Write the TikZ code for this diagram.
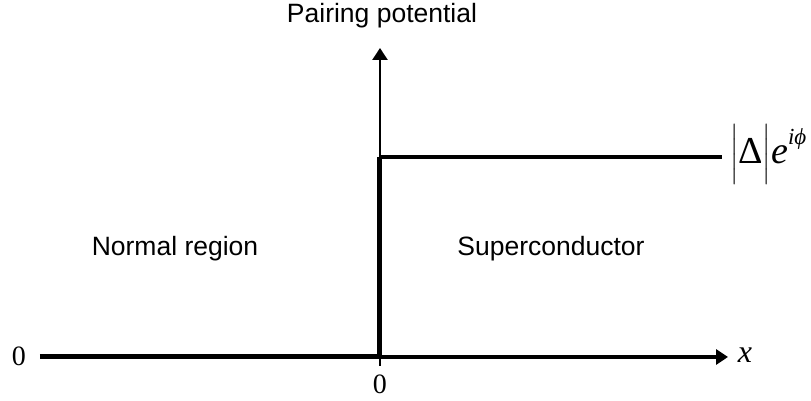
\RequirePackage{fix-cm}
\documentclass[tikz,border=0pt]{standalone}
\usepackage{amsmath}
\usepackage{fontspec}
\setmainfont{Liberation Serif}
\setsansfont{Liberation Sans}
\usetikzlibrary{arrows.meta}

\tikzset{
    axisarrow/.style={-{Triangle[length=12pt, width=15pt]}},
    regionlabel/.style={font=\sffamily\fontsize{26.5}{30}\selectfont, inner sep=0pt, anchor=base},
    ticklabel/.style={font=\fontsize{28}{32}\selectfont, inner sep=0pt}
}

\begin{document}
\begin{tikzpicture}[x=1pt, y=1pt]
    \useasboundingbox (-380, -44) rectangle (431, 357);

    % Axes
    \coordinate (origin) at (0, 0);
    \coordinate (xstart) at (-340, 0);
    \coordinate (xend) at (348, 0);
    \coordinate (ystart) at (0, -9);
    \coordinate (yend) at (0, 309);
    \draw[line width=3.5pt, axisarrow] (origin) -- (xend);
    \draw[line width=2.5pt, axisarrow] (ystart) -- (yend);

    % Normal region: zero pairing
    \draw[line width=5pt] (xstart) -- (origin);

    % Superconductor: step up to |Delta|
    \coordinate (stepup) at (0, 200);
    \coordinate (stepend) at (342, 200);
    \draw[line width=5pt] (origin) -- (stepup);
    \draw[line width=3.5pt] (0, 200) -- (stepend);

    % Labels
    \node[regionlabel] (ylabel) at (2, 334) {Pairing potential};
    \node[regionlabel] (normal) at (-205, 101) {Normal region};
    \node[regionlabel] (superc) at (171, 101) {Superconductor};
    \node[ticklabel] (zeroleft) at (-361, 1) {0};
    \node[ticklabel] (zerobottom) at (0, -27) {0};
    \node[ticklabel, font=\fontsize{32}{36}\selectfont\itshape] (xlabel) at (365, 2) {x};
    \node[inner sep=0pt, anchor=base west, font=\fontsize{38}{40}\selectfont] (gap) at (350, 193)
        {$\left|\rule[-0.42em]{0pt}{1.3em}\text{Δ}\right|$\textit{e}\raisebox{0.5em}{\fontsize{23}{25}\selectfont\textit{iϕ}}};
\end{tikzpicture}
\end{document}
